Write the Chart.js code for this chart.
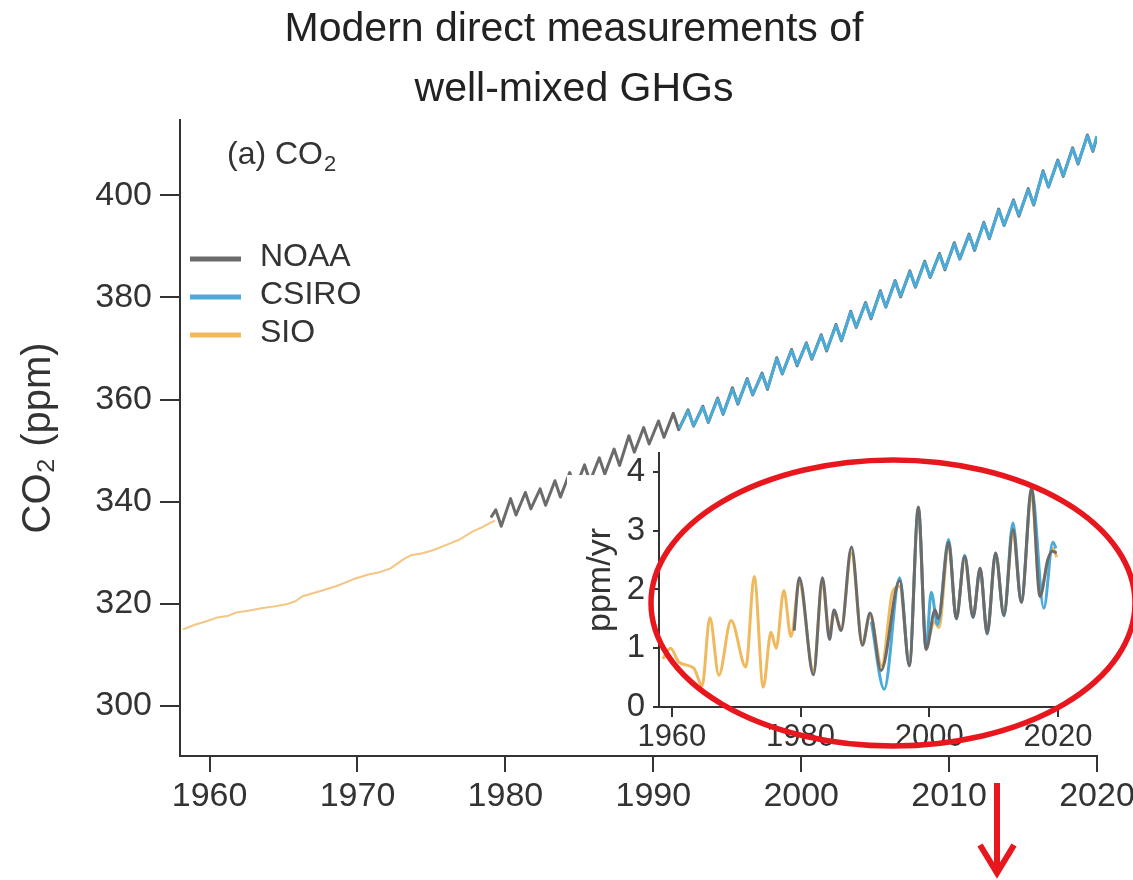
<!DOCTYPE html>
<html>
<head>
<meta charset="utf-8">
<title>Modern direct measurements of well-mixed GHGs</title>
<script src="https://cdn.jsdelivr.net/npm/chart.js@4.4.1/dist/chart.umd.min.js"></script>
<style>
  html, body { margin: 0; padding: 0; background: #fff; }
  #wrap { position: relative; width: 1133px; height: 880px; }
  #mainChart { position: absolute; left: 0; top: 0; }
  #insetChart { position: absolute; left: 560px; top: 430px; }
</style>
</head>
<body>
<div id="wrap">
  <canvas id="mainChart" width="1133" height="880"></canvas>
  <canvas id="insetChart" width="573" height="450"></canvas>
</div>
<script>
// ---- main panel: CO2 concentration (ppm) ----
const xTicks = [1960, 1970, 1980, 1990, 2000, 2010, 2020];
const yTicks = [300, 320, 340, 360, 380, 400];

// SIO record (smoothed, before the flask networks start)
const sioYears = [1958.2, 1959.0, 1959.8, 1960.5, 1961.2, 1961.8, 1962.7, 1963.6, 1964.4, 1965.2, 1965.8, 1966.3, 1967.5, 1968.6,
  1969.7, 1970.8, 1971.5, 1972.2, 1973.1, 1973.6, 1974.4, 1975.1, 1975.8, 1976.9, 1977.8, 1978.5, 1979.0, 1979.3];
const sioCo2 = [315.0, 315.9, 316.6, 317.3, 317.6, 318.3, 318.7, 319.2, 319.5, 319.9, 320.5, 321.5, 322.5, 323.5,
  324.8, 325.8, 326.2, 326.9, 328.7, 329.5, 329.9, 330.5, 331.3, 332.6, 334.2, 335.1, 335.9, 336.3];

// NOAA: seasonal maximum and minimum of each year
const noaaYears = [1979, 1980, 1981, 1982, 1983, 1984, 1985, 1986, 1987, 1988, 1989, 1990, 1991, 1992, 1993, 1994,
  1995, 1996, 1997, 1998, 1999, 2000, 2001, 2002, 2003, 2004, 2005, 2006, 2007, 2008, 2009, 2010, 2011, 2012,
  2013, 2014, 2015, 2016, 2017, 2018, 2019];
const noaaPeak = [338.4, 340.6, 341.8, 342.5, 344.1, 345.7, 347.2, 348.6, 350.3, 352.9, 354.5, 355.8, 357.3, 358.0,
  358.7, 360.3, 362.3, 364.1, 365.2, 368.2, 369.8, 371.1, 372.7, 374.7, 377.3, 379.0, 381.3, 383.3, 385.2, 387.1,
  388.6, 390.7, 392.4, 394.7, 397.3, 399.1, 401.3, 404.8, 406.9, 409.3, 411.8];
const noaaTrough = [335.2, 337.4, 338.6, 339.3, 340.9, 342.5, 344.0, 345.4, 347.1, 349.7, 351.3, 352.6, 354.1, 354.8,
  355.5, 357.1, 359.1, 360.9, 362.0, 365.0, 366.6, 367.9, 369.5, 371.5, 374.1, 375.8, 378.1, 380.1, 382.0, 383.9,
  385.4, 387.5, 389.2, 391.5, 394.1, 395.9, 398.1, 401.6, 403.7, 406.1, 408.6];
const noaaFirst = [1979.02, 336.9];
const noaaLast = [2019.98, 411.2];

// CSIRO: seasonal maximum and minimum of each year
const csiroYears = [1992, 1993, 1994, 1995, 1996, 1997, 1998, 1999, 2000, 2001, 2002, 2003, 2004, 2005, 2006, 2007,
  2008, 2009, 2010, 2011, 2012, 2013, 2014, 2015, 2016, 2017, 2018, 2019];
const csiroPeak = [357.8, 358.5, 360.1, 362.0, 363.9, 365.0, 368.0, 369.6, 370.9, 372.5, 374.5, 377.1, 378.8, 381.1,
  383.1, 385.0, 386.9, 388.4, 390.5, 392.2, 394.5, 397.1, 398.9, 401.1, 404.6, 406.7, 409.1, 411.6];
const csiroTrough = [354.9, 355.6, 357.2, 359.3, 361.0, 362.2, 365.1, 366.8, 368.0, 369.7, 371.6, 374.2, 376.0, 378.2,
  380.3, 382.1, 384.0, 385.6, 387.6, 389.4, 391.6, 394.2, 396.1, 398.2, 401.7, 403.9, 406.3, 408.8];
const csiroFirst = [1991.75, 354.3];
const csiroLast = [2019.98, 411.6];

// timing of the seasonal max / min within a year
const peakPhase = 0.35;
const troughPhase = 0.72;

// ---- inset: growth rate (ppm/yr) ----
const insetXTicks = [1960, 1980, 2000, 2020];
const insetYTicks = [0, 1, 2, 3, 4];

const sioRateYears = [1958.6, 1959.8, 1961.1, 1963.4, 1964.7, 1965.9, 1967.3, 1969.2, 1971.5, 1972.8, 1974.2, 1975.4,
  1976.2, 1977.4, 1978.5, 1979.8, 1982.0, 1983.4, 1984.5, 1985.2, 1986.3, 1987.9, 1989.6, 1990.8, 1992.6, 1994.3,
  1995.4, 1996.9, 1998.3, 1999.5, 2000.8, 2001.5, 2003.0, 2004.2, 2005.5, 2006.8, 2007.9, 2009.0, 2010.3, 2011.6,
  2013.0, 2014.3, 2015.9, 2017.2, 2018.4, 2019.2, 2019.8];
const sioRate = [0.82, 1.00, 0.76, 0.66, 0.36, 1.52, 0.54, 1.47, 0.68, 2.22, 0.34, 1.27, 1.00, 1.98, 1.20, 2.10, 0.62,
  2.10, 1.25, 1.60, 1.35, 2.62, 1.10, 1.55, 0.70, 1.96, 2.05, 0.75, 3.30, 1.05, 1.45, 1.35, 2.75, 1.55, 2.50, 1.55,
  2.30, 1.30, 2.55, 1.60, 2.95, 1.80, 3.60, 1.95, 2.45, 2.70, 2.55];

const noaaRateYears = [1979.0, 1979.8, 1982.0, 1983.4, 1984.5, 1985.2, 1986.3, 1987.9, 1989.6, 1990.8, 1992.5, 1995.4,
  1996.9, 1998.3, 1999.5, 2000.9, 2001.4, 2003.0, 2004.2, 2005.5, 2006.8, 2007.9, 2009.0, 2010.3, 2011.6, 2013.0,
  2014.3, 2015.9, 2017.2, 2018.4, 2019.1, 2019.8];
const noaaRate = [1.30, 2.20, 0.55, 2.20, 1.15, 1.65, 1.30, 2.72, 1.05, 1.60, 0.62, 2.15, 0.70, 3.40, 0.98, 1.65, 1.50,
  2.80, 1.50, 2.56, 1.53, 2.36, 1.25, 2.62, 1.56, 3.02, 1.78, 3.72, 1.88, 2.50, 2.65, 2.62];

const csiroRateYears = [1991.0, 1993.0, 1995.4, 1996.9, 1998.3, 1999.5, 2000.3, 2001.3, 2003.0, 2004.2, 2005.5, 2006.8,
  2007.9, 2009.0, 2010.3, 2011.6, 2013.0, 2014.3, 2015.9, 2017.8, 2019.2, 2019.7];
const csiroRate = [1.45, 0.30, 2.20, 0.72, 3.38, 1.00, 1.95, 1.40, 2.85, 1.50, 2.58, 1.52, 2.36, 1.24, 2.62, 1.55, 3.13,
  1.78, 3.70, 1.68, 2.80, 2.70];

const legendOrder = ['NOAA', 'CSIRO', 'SIO'];

// ---- styles ----
const font = '"Liberation Sans", Arial, sans-serif';
const ink = '#333';
const noaaColor = '#6b6b6b';
const csiroColor = '#4aaad8';
const sioColor = '#f0b95e';
const sioPale = '#f4c583';
const red = '#e8161d';

function pairs(xs, ys) {
  return xs.map((x, i) => ({ x: x, y: ys[i] }));
}

function seasonal(years, peaks, troughs, first, last) {
  const pts = [{ x: first[0], y: first[1] }];
  years.forEach((yr, i) => {
    pts.push({ x: yr + peakPhase, y: peaks[i] });
    pts.push({ x: yr + troughPhase, y: troughs[i] });
  });
  pts.push({ x: last[0], y: last[1] });
  return pts;
}

function axisStyle(tickLength) {
  return {
    grid: { drawOnChartArea: false, drawTicks: true, tickLength: tickLength, color: ink, lineWidth: 2 },
    border: { color: ink, width: 2 }
  };
}

// legend + panel label drawn inside the plot
const mainDecor = {
  id: 'mainDecor',
  afterDraw(chart) {
    const { ctx, chartArea } = chart;
    ctx.save();
    ctx.fillStyle = ink;
    ctx.textBaseline = 'alphabetic';
    ctx.font = '32px ' + font;
    const lx = chartArea.left + 47;
    const ly = 164;
    ctx.fillText('(a) CO', lx, ly);
    const w = ctx.measureText('(a) CO').width;
    ctx.font = '22px ' + font;
    ctx.fillText('2', lx + w + 1, ly + 7);

    legendOrder.forEach((name, i) => {
      const ds = chart.data.datasets.find(d => d.label === name);
      const y = 259 + i * 38;
      ctx.strokeStyle = ds.legendColor || ds.borderColor;
      ctx.lineWidth = 5;
      ctx.beginPath();
      ctx.moveTo(chartArea.left + 10, y);
      ctx.lineTo(chartArea.left + 61, y);
      ctx.stroke();
      ctx.font = '32px ' + font;
      ctx.textBaseline = 'middle';
      ctx.fillStyle = ink;
      ctx.fillText(name, chartArea.left + 80, y - 2);
    });
    ctx.restore();
  }
};

new Chart(document.getElementById('mainChart'), {
  type: 'line',
  data: {
    datasets: [
      { label: 'CSIRO', data: seasonal(csiroYears, csiroPeak, csiroTrough, csiroFirst, csiroLast),
        borderColor: csiroColor, borderWidth: 3 },
      { label: 'NOAA', data: seasonal(noaaYears, noaaPeak, noaaTrough, noaaFirst, noaaLast),
        borderColor: noaaColor, borderWidth: 3 },
      { label: 'SIO', data: pairs(sioYears, sioCo2), borderColor: sioPale, legendColor: sioColor, borderWidth: 2 }
    ]
  },
  options: {
    responsive: false,
    animation: false,
    devicePixelRatio: 1,
    layout: { padding: { left: 15, right: 0, top: 0, bottom: 0 } },
    elements: { point: { radius: 0 }, line: { tension: 0, borderJoinStyle: 'round' } },
    plugins: {
      legend: { display: false },
      tooltip: { enabled: false },
      title: {
        display: true,
        text: ['Modern direct measurements of', 'well-mixed GHGs'],
        color: '#222',
        font: { family: font, size: 41, weight: 'normal', lineHeight: 1.46 },
        padding: { top: 0, bottom: 0 }
      }
    },
    scales: {
      x: {
        type: 'linear', min: 1958, max: 2020,
        ...axisStyle(16),
        afterBuildTicks: s => { s.ticks = xTicks.map(v => ({ value: v })); },
        afterFit: s => { s.height = 124; s.paddingLeft = 0; s.paddingRight = 36; },
        ticks: { autoSkip: false, maxRotation: 0, padding: 4, color: ink,
          font: { family: font, size: 34 }, callback: v => String(v) }
      },
      y: {
        type: 'linear', min: 290.2, max: 414.8,
        ...axisStyle(20),
        afterBuildTicks: s => { s.ticks = yTicks.map(v => ({ value: v })); },
        afterFit: s => { s.width = 165; },
        ticks: { padding: 8, color: ink, font: { family: font, size: 34 }, callback: v => String(v) },
        title: { display: true, text: 'CO₂ (ppm)', color: ink,
          font: { family: font, size: 40 }, padding: { top: 0, bottom: 0 } }
      }
    }
  },
  plugins: [mainDecor]
});

// white panel behind the inset, plus the red highlight ellipse and arrow
const insetDecor = {
  id: 'insetDecor',
  beforeDraw(chart) {
    const ctx = chart.ctx;
    ctx.save();
    ctx.fillStyle = '#fff';
    ctx.fillRect(7, 45, 528, 279);
    ctx.restore();
  },
  afterDraw(chart) {
    const ctx = chart.ctx;
    ctx.save();
    ctx.strokeStyle = red;
    ctx.lineWidth = 5.5;
    ctx.beginPath();
    ctx.ellipse(333, 173, 242, 143, 0, 0, Math.PI * 2);
    ctx.stroke();
    ctx.lineWidth = 6;
    ctx.lineCap = 'butt';
    ctx.beginPath();
    ctx.moveTo(437, 353);
    ctx.lineTo(437, 440);
    ctx.stroke();
    ctx.lineJoin = 'miter';
    ctx.beginPath();
    ctx.moveTo(420, 415);
    ctx.lineTo(437, 443);
    ctx.lineTo(454, 415);
    ctx.stroke();
    ctx.restore();
  }
};

new Chart(document.getElementById('insetChart'), {
  type: 'line',
  data: {
    datasets: [
      { label: 'NOAA', data: pairs(noaaRateYears, noaaRate), borderColor: noaaColor, borderWidth: 3 },
      { label: 'CSIRO', data: pairs(csiroRateYears, csiroRate), borderColor: csiroColor, borderWidth: 3 },
      { label: 'SIO', data: pairs(sioRateYears, sioRate), borderColor: sioColor, borderWidth: 3 }
    ]
  },
  options: {
    responsive: false,
    animation: false,
    devicePixelRatio: 1,
    layout: { padding: { left: 0, right: 75, top: 23, bottom: 0 } },
    elements: { point: { radius: 0 }, line: { cubicInterpolationMode: 'monotone' } },
    plugins: { legend: { display: false }, tooltip: { enabled: false } },
    scales: {
      x: {
        type: 'linear', min: 1958, max: 2020,
        ...axisStyle(10),
        afterBuildTicks: s => { s.ticks = insetXTicks.map(v => ({ value: v })); },
        afterFit: s => { s.height = 173; s.paddingLeft = 0; s.paddingRight = 0; },
        ticks: { autoSkip: false, maxRotation: 0, padding: 2, color: ink,
          font: { family: font, size: 31 }, callback: v => String(v) }
      },
      y: {
        type: 'linear', min: 0, max: 4.32,
        ...axisStyle(6),
        afterBuildTicks: s => { s.ticks = insetYTicks.map(v => ({ value: v })); },
        afterFit: s => { s.width = 99; s.paddingTop = 0; s.paddingBottom = 0; },
        ticks: { padding: 8, color: ink, font: { family: font, size: 33 }, callback: v => String(v) },
        title: { display: true, text: 'ppm/yr', color: ink,
          font: { family: font, size: 34 }, padding: { top: 20, bottom: 0 } }
      }
    }
  },
  plugins: [insetDecor]
});
</script>
</body>
</html>
